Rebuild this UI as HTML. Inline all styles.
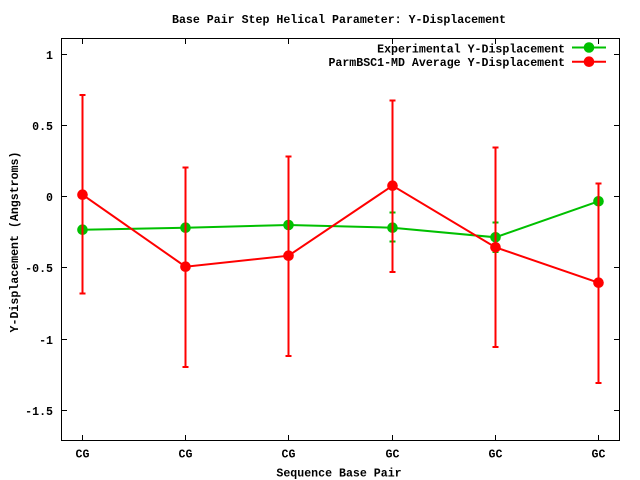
<!DOCTYPE html>
<html><head><meta charset="utf-8"><style>
html,body{margin:0;padding:0;background:#fff;}
svg{display:block;}
text{font-family:"Liberation Mono","DejaVu Sans Mono",monospace;font-weight:bold;font-size:11.6px;fill:#000;}
</style></head><body>
<svg width="640" height="480" viewBox="0 0 640 480" xmlns="http://www.w3.org/2000/svg">
<rect width="640" height="480" fill="#fff"/>
<text x="339" y="23" text-anchor="middle">Base Pair Step Helical Parameter: Y-Displacement</text>
<!-- frame -->
<g stroke="#000" stroke-width="1" fill="none" shape-rendering="crispEdges">
<path d="M61.5 38.5H619.5V440.5H61.5Z"/>
<!-- y ticks -->
<path d="M62 54.5h5M62 125.5h5M62 196.5h5M62 267.5h5M62 339.5h5M62 410.5h5"/>
<path d="M619 54.5h-5M619 125.5h-5M619 196.5h-5M619 267.5h-5M619 339.5h-5M619 410.5h-5"/>
<!-- x ticks -->
<path d="M82.5 440v-5M185.5 440v-5M288.5 440v-5M392.5 440v-5M495.5 440v-5M598.5 440v-5"/>
<path d="M82.5 39v5M185.5 39v5M288.5 39v5M392.5 39v5M495.5 39v5M598.5 39v5"/>
</g>
<g text-anchor="end">
<text x="53" y="58.8">1</text>
<text x="53" y="129.8">0.5</text>
<text x="53" y="200.8">0</text>
<text x="53" y="271.8">-0.5</text>
<text x="53" y="343.8">-1</text>
<text x="53" y="414.8">-1.5</text>
</g>
<g text-anchor="middle">
<text x="82.5" y="457.5">CG</text>
<text x="185.5" y="457.5">CG</text>
<text x="288.5" y="457.5">CG</text>
<text x="392.5" y="457.5">GC</text>
<text x="495.5" y="457.5">GC</text>
<text x="598.5" y="457.5">GC</text>
<text x="339" y="476.5">Sequence Base Pair</text>
<text transform="translate(18,242) rotate(-90)" x="0" y="0">Y-Displacement (Angstroms)</text>
</g>
<!-- green series -->
<g stroke="#00c000" stroke-width="2" fill="none">
<polyline points="82.5,229.7 185.5,227.7 288.5,225 392.5,227.7 495.5,237.3 598.5,201.3"/>
<path d="M392.5 212.3V241.7M389.5 212.3h6M389.5 241.7h6" shape-rendering="crispEdges"/>
<path d="M495.5 222.7V252M492.5 222.7h6M492.5 252h6" shape-rendering="crispEdges"/>
<path d="M572 47.5H606"/>
</g>
<g fill="#00c000">
<circle cx="82.5" cy="229.7" r="5.3"/>
<circle cx="185.5" cy="227.7" r="5.3"/>
<circle cx="288.5" cy="225" r="5.3"/>
<circle cx="392.5" cy="227.7" r="5.3"/>
<circle cx="495.5" cy="237.3" r="5.3"/>
<circle cx="598.5" cy="201.3" r="5.3"/>
<circle cx="589" cy="47.5" r="5.3"/>
</g>
<!-- red series -->
<g stroke="#ff0000" stroke-width="2" fill="none">
<polyline points="82.5,194.7 185.5,266.7 288.5,255.7 392.5,185.7 495.5,247.3 598.5,282.7"/>
<g shape-rendering="crispEdges">
<path d="M82.5 95V293.7M79.5 95h6M79.5 293.7h6"/>
<path d="M185.5 167.7V367M182.5 167.7h6M182.5 367h6"/>
<path d="M288.5 156.3V356M285.5 156.3h6M285.5 356h6"/>
<path d="M392.5 100.3V272M389.5 100.3h6M389.5 272h6"/>
<path d="M495.5 147.3V347M492.5 147.3h6M492.5 347h6"/>
<path d="M598.5 183.3V383M595.5 183.3h6M595.5 383h6"/>
</g>
<path d="M572 61.7H606"/>
</g>
<g fill="#ff0000">
<circle cx="82.5" cy="194.7" r="5.3"/>
<circle cx="185.5" cy="266.7" r="5.3"/>
<circle cx="288.5" cy="255.7" r="5.3"/>
<circle cx="392.5" cy="185.7" r="5.3"/>
<circle cx="495.5" cy="247.3" r="5.3"/>
<circle cx="598.5" cy="282.7" r="5.3"/>
<circle cx="589" cy="61.7" r="5.3"/>
</g>
<g text-anchor="end">
<text x="565" y="52.5">Experimental Y-Displacement</text>
<text x="565" y="66">ParmBSC1-MD Average Y-Displacement</text>
</g>
</svg>
</body></html>
